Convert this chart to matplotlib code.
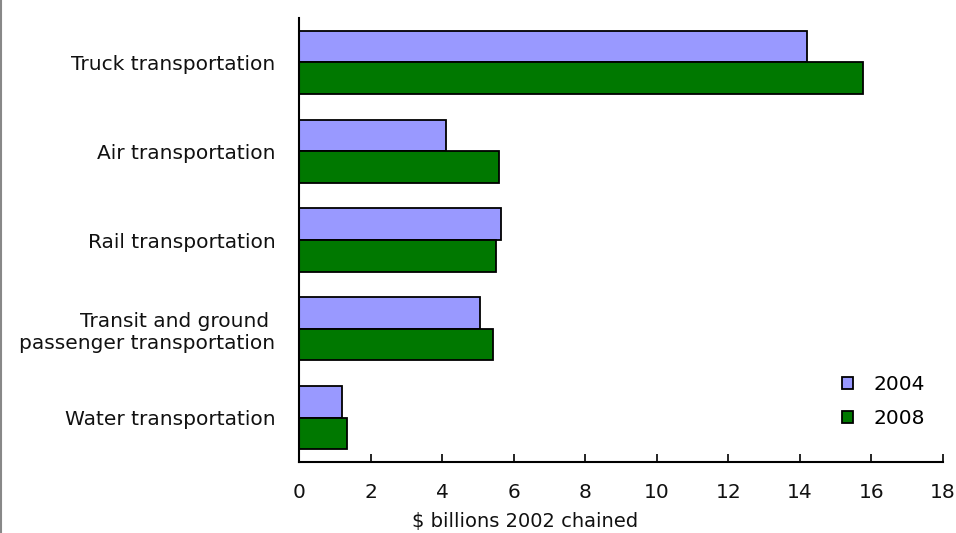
import matplotlib.pyplot as plt
import numpy as np

plt.rcParams['font.family'] = ['DejaVu Sans']

categories = ['Truck transportation', 'Air transportation', 'Rail transportation',
              'Transit and ground \npassenger transportation', 'Water transportation']
values_2004 = [14.2, 4.1, 5.65, 5.05, 1.2]
values_2008 = [15.75, 5.6, 5.5, 5.42, 1.35]
series_labels = ['2004', '2008']
xticks = [0, 2, 4, 6, 8, 10, 12, 14, 16, 18]

fs = 14.5

fig = plt.figure(figsize=(9.56, 5.33), dpi=100)
ax = fig.add_axes([299 / 956, 1 - 462 / 533, 644 / 956, 444 / 533])

y = np.arange(len(categories))
h = 0.355
ax.barh(y - h / 2, values_2004, height=h, color='#9999ff', edgecolor='black',
        linewidth=1.3, label=series_labels[0])
ax.barh(y + h / 2, values_2008, height=h, color='#007800', edgecolor='black',
        linewidth=1.3, label=series_labels[1])

ax.set_ylim(len(categories) - 0.5, -0.5)
ax.set_xlim(0, 18)
ax.set_xticks(xticks)
ax.set_xticklabels([str(t) for t in xticks])
ax.set_yticks(y)
ax.set_yticklabels(categories, fontsize=fs, ha='right', ma='right', color='#111111')
ax.tick_params(axis='y', length=0, pad=17)
ax.tick_params(axis='x', direction='in', length=6, width=1.2, pad=15, labelsize=fs,
               labelcolor='#111111')

for side in ['top', 'right']:
    ax.spines[side].set_visible(False)
ax.spines['left'].set_linewidth(1.5)
ax.spines['bottom'].set_linewidth(1.5)

ax.legend(loc='lower right', bbox_to_anchor=(1.0, 0.035), frameon=False, fontsize=fs,
          handlelength=0.55, handleheight=0.55, handletextpad=1.0, labelspacing=0.75)

fig.text(525 / 956, 1 - 512 / 533, r'\$ billions 2002 chained', ha='center', va='top',
         fontsize=14, color='#111111')

# thin grey frame line along the left edge
fig.add_artist(plt.Line2D([0.001, 0.001], [0, 1], color='#888888', linewidth=1.5,
                          transform=fig.transFigure))

fig.savefig('out.png', dpi=100)
